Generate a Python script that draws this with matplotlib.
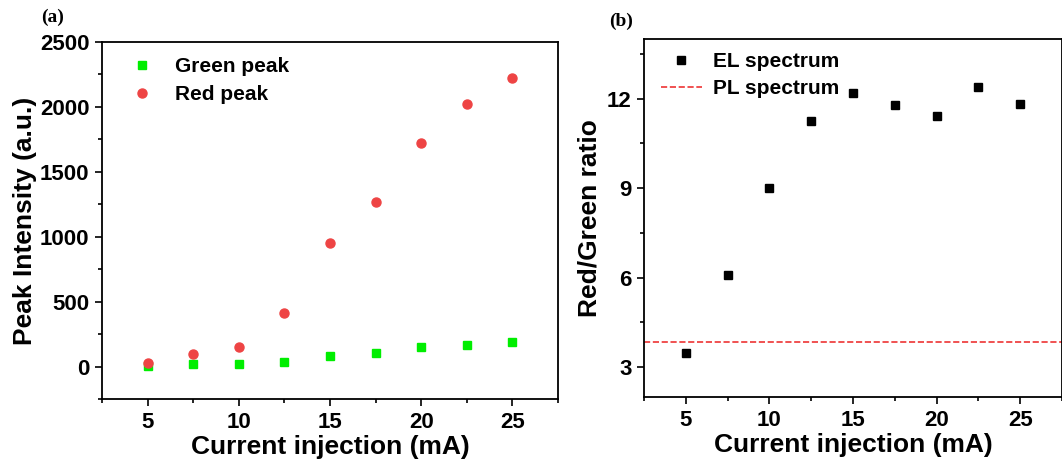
import matplotlib.pyplot as plt
from matplotlib.ticker import MultipleLocator

# données
current = [5, 7.5, 10, 12.5, 15, 17.5, 20, 22.5, 25]
green_peak = [8, 20, 20, 38, 82, 108, 152, 165, 190]
red_peak = [31, 100, 154, 411, 952, 1268, 1722, 2022, 2222]
el_ratio = [3.47, 6.09, 9.0, 11.26, 12.2, 11.8, 11.43, 12.38, 11.83]
pl_ratio = 3.84

plt.rcParams['font.family'] = ['Liberation Sans', 'DejaVu Sans']
plt.rcParams['font.weight'] = 'bold'

W, H = 1062, 465
fig = plt.figure(figsize=(W / 100, H / 100), dpi=100)


def box(x0, y0, x1, y1):
    return [x0 / W, 1 - y1 / H, (x1 - x0) / W, (y1 - y0) / H]


def style(ax):
    for s in ax.spines.values():
        s.set_linewidth(1.3)
    ax.tick_params(which='both', direction='out', width=1.2, labelsize=16)
    ax.tick_params(which='major', length=5, pad=4)
    ax.tick_params(which='minor', length=3)
    ax.xaxis.set_major_locator(MultipleLocator(5))
    ax.xaxis.set_minor_locator(MultipleLocator(2.5))
    ax.set_xlim(2.5, 27.5)
    ax.set_xlabel('Current injection (mA)', fontsize=19, fontweight='bold', labelpad=2)
    for lab in ax.get_xticklabels() + ax.get_yticklabels():
        lab.set_fontweight('bold')


# (a) intensité des pics
ax1 = fig.add_axes(box(102, 42, 558, 399))
ax1.plot(current, green_peak, 's', color='#00ee00', ms=6, label='Green peak')
ax1.plot(current, red_peak, 'o', color='#ee4444', ms=6.5, label='Red peak')
ax1.set_ylim(-250, 2500)
ax1.yaxis.set_major_locator(MultipleLocator(500))
ax1.yaxis.set_minor_locator(MultipleLocator(250))
ax1.set_ylabel('Peak Intensity (a.u.)', fontsize=19, fontweight='bold', labelpad=2)
style(ax1)
ax1.legend(loc='upper left', bbox_to_anchor=(0.0, 1.01), frameon=False,
           prop={'size': 15, 'weight': 'bold'}, handletextpad=0.6, labelspacing=0.42)

# (b) rapport rouge/vert
ax2 = fig.add_axes(box(644, 39, 1062, 397))
ax2.plot(current, el_ratio, 's', color='black', ms=6, label='EL spectrum')
ax2.axhline(pl_ratio, color='#ee3333', ls='--', lw=1.2, label='PL spectrum')
ax2.set_ylim(2, 14)
ax2.yaxis.set_major_locator(MultipleLocator(3))
ax2.yaxis.set_minor_locator(MultipleLocator(1.5))
ax2.set_ylabel('Red/Green ratio', fontsize=19, fontweight='bold', labelpad=4)
style(ax2)
ax2.legend(loc='upper left', bbox_to_anchor=(-0.005, 1.015), frameon=False,
           prop={'size': 15, 'weight': 'bold'}, handletextpad=0.5, labelspacing=0.38,
           handlelength=2.0)

fig.text(53 / W, 1 - 17 / H, '(a)', family='Liberation Serif', fontsize=14,
         fontweight='bold', ha='center', va='center')
fig.text(621 / W, 1 - 21 / H, '(b)', family='Liberation Serif', fontsize=14,
         fontweight='bold', ha='center', va='center')

fig.savefig('out.png', dpi=100)
